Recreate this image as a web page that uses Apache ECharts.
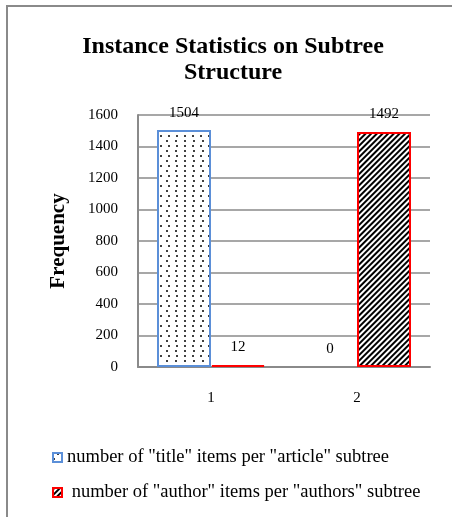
<!DOCTYPE html>
<html><head><meta charset="utf-8">
<style>html,body{margin:0;padding:0;background:#fff}#c{width:452px;height:517px}</style>
<script src="https://cdn.jsdelivr.net/npm/echarts@6/dist/echarts.min.js"></script>
</head><body><div id="c"></div>
<script>
var categories = ['1', '2'];
var seriesNames = ['number of "title" items per "article" subtree', 'number of "author" items per "authors" subtree'];
var titleItems = [1504, 0];
var authorItems = [12, 1492];
var yTicks = [0, 200, 400, 600, 800, 1000, 1200, 1400, 1600];

var F = 'Liberation Serif, Times New Roman, serif';
function items(arr) {
  return arr.map(function (v) { return v === 0 ? {value: v, itemStyle: {borderWidth: 0}} : v; });
}
var chart = echarts.init(document.getElementById('c'));
chart.setOption({
  backgroundColor: '#fff',
  animation: false,
  title: {
    text: 'Instance Statistics on Subtree\nStructure',
    left: 228, top: 29, textAlign: 'center',
    textStyle: {fontFamily: F, fontWeight: 'bold', fontSize: 24, lineHeight: 26, color: '#000'}
  },
  graphic: [{
    type: 'polyline', silent: true,
    shape: {points: [[7, 517], [7, 6], [452, 6]]},
    style: {stroke: '#8a8a8a', lineWidth: 2, fill: null}
  }],
  legend: {
    orient: 'vertical', left: 52, top: 448, itemGap: 16, padding: 0,
    itemWidth: 9, itemHeight: 9, icon: 'rect',
    data: seriesNames,
    formatter: function (n) { return n === seriesNames[1] ? ' ' + n : n; },
    textStyle: {fontFamily: F, fontSize: 18.5, color: '#000', padding: [0, 0, 0, 0]}
  },
  grid: {left: 138, right: 22, top: 115, bottom: 150},
  xAxis: {
    type: 'category', data: categories,
    axisLine: {lineStyle: {color: '#8a8a8a', width: 2}},
    axisTick: {show: false},
    axisLabel: {fontFamily: F, fontSize: 15, color: '#000', margin: 24}
  },
  yAxis: {
    type: 'value', min: yTicks[0], max: yTicks[yTicks.length - 1], interval: 200,
    name: 'Frequency', nameLocation: 'middle', nameGap: 69, nameRotate: 90,
    nameTextStyle: {fontFamily: F, fontWeight: 'bold', fontSize: 21, color: '#000'},
    axisLine: {show: true, lineStyle: {color: '#8a8a8a', width: 2}},
    axisTick: {show: false},
    splitLine: {lineStyle: {color: '#8a8a8a', width: 1.5}},
    axisLabel: {fontFamily: F, fontSize: 15, color: '#000', margin: 20,
      formatter: function (v) { return String(v); }}
  },
  series: [{
    name: seriesNames[0], type: 'bar', data: items(titleItems),
    barWidth: 54, barGap: '0%',
    itemStyle: {
      color: '#fff', borderColor: '#5b8fd8', borderWidth: 2,
      decal: {symbol: 'circle', color: '#000', symbolSize: 1,
        dashArrayX: [[1.5, 6], [0, 3.75, 1.5, 2.25]], dashArrayY: [1.5, 3], rotation: 0}
    },
    label: {show: true, position: 'top', distance: 10, fontFamily: F, fontSize: 15, color: '#000'}
  }, {
    name: seriesNames[1], type: 'bar', data: items(authorItems),
    barWidth: 54,
    itemStyle: {
      color: '#fff', borderColor: '#ff0000', borderWidth: 2,
      decal: {symbol: 'rect', color: '#000', symbolSize: 1,
        dashArrayX: [1, 0], dashArrayY: [1.6, 1.6], rotation: -Math.PI / 4}
    },
    label: {show: true, position: 'top', distance: 10, fontFamily: F, fontSize: 15, color: '#000'}
  }]
});
</script></body></html>
